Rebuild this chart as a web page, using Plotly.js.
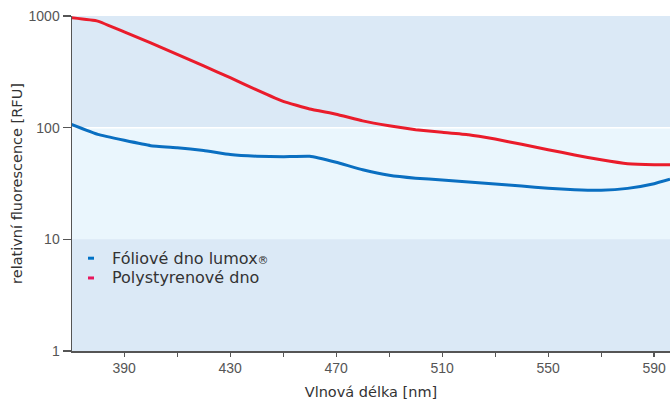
<!DOCTYPE html>
<html>
<head>
<meta charset="utf-8">
<script src="https://cdn.plot.ly/plotly-3.0.1.min.js"></script>
<style>html,body{margin:0;padding:0;background:#fff;}#chart{width:670px;height:403px;}</style>
</head>
<body>
<div id="chart"></div>
<script>
// Wavelength [nm]
var wavelength = [370, 380, 390, 400, 410, 420, 430, 440, 450, 460, 470, 480, 490, 500, 510, 520, 530, 540, 550, 560, 570, 580, 590, 596];
// Fóliové dno lumox® [RFU]
var lumox = [107, 87, 77, 69, 66, 62.5, 57.5, 55.5, 55, 55.5, 49, 42, 37.5, 35.3, 34, 32.7, 31.3, 30, 28.7, 27.8, 27.5, 28.6, 31.5, 34.5];
// Polystyrenové dno [RFU]
var polystyrene = [965, 900, 720, 575, 454, 357, 280, 218, 172, 147, 132, 115, 104, 96, 91, 86.5, 79, 71, 63.5, 57, 51.5, 47.5, 46.5, 46.5];

var seriesNames = ['Fóliové dno lumox<span style="font-size:11px">®</span>', 'Polystyrenové dno'];
var xTickVals = [390, 430, 470, 510, 550, 590];
var xTickText = ['390', '430', '470', '510', '550', '590'];
var xMinorTickVals = [410, 450, 490, 530, 570];
var yTickVals = [1, 10, 100, 1000];
var yTickText = ['1', '10', '100', '1000'];

var blue = '#0a6fc1';
var red = '#ea1c2b';
var bandDark = '#dbe9f6';
var bandLight = '#eaf6fd';

var traces = [
  {x: wavelength, y: lumox, name: 'Fóliové dno lumox®', type: 'scatter', mode: 'lines',
   line: {color: blue, width: 3, shape: 'spline', smoothing: 0.3}, showlegend: false},
  {x: wavelength, y: polystyrene, name: seriesNames[1], type: 'scatter', mode: 'lines',
   line: {color: red, width: 3, shape: 'spline', smoothing: 0.3}, showlegend: false}
];

var tickFont = {family: 'Liberation Sans Narrow, Arial Narrow, sans-serif', size: 14, color: '#555'};
var titleFont = {family: 'DejaVu Sans, sans-serif', size: 14.5, color: '#333'};
var legendFont = {family: 'DejaVu Sans, sans-serif', size: 16, color: '#333'};

var layout = {
  width: 670, height: 403,
  margin: {l: 72, r: 0, t: 15.5, b: 52, pad: 0},
  paper_bgcolor: '#fff',
  plot_bgcolor: bandDark,
  showlegend: false,
  xaxis: {
    range: [370.3, 596], tickmode: 'array', tickvals: xTickVals, ticktext: xTickText,
    ticks: 'outside', ticklen: 4, tickwidth: 1.2, tickcolor: '#555',
    minor: {tickmode: 'array', tickvals: xMinorTickVals, ticks: 'outside', ticklen: 4, tickwidth: 1.2, tickcolor: '#555', showgrid: false},
    showline: true, linecolor: '#555', linewidth: 1.5, showgrid: false, zeroline: false,
    tickfont: tickFont,
    title: {text: 'Vlnová délka [nm]', font: titleFont, standoff: 11}
  },
  yaxis: {
    type: 'log', range: [0, 3], tickmode: 'array', tickvals: yTickVals, ticktext: yTickText,
    ticks: 'outside', ticklen: 8, tickwidth: 1.2, tickcolor: '#555',
    showline: true, linecolor: '#555', linewidth: 1.5, showgrid: false, zeroline: false,
    tickfont: tickFont,
    title: {text: 'relativní fluorescence [RFU]', font: titleFont, standoff: 2}
  },
  shapes: [
    {type: 'rect', xref: 'paper', yref: 'y', x0: 0, x1: 1, y0: 1, y1: 10, fillcolor: bandDark, line: {width: 0}, layer: 'below'},
    {type: 'rect', xref: 'paper', yref: 'y', x0: 0, x1: 1, y0: 10, y1: 100, fillcolor: bandLight, line: {width: 0}, layer: 'below'},
    {type: 'rect', xref: 'paper', yref: 'y', x0: 0, x1: 1, y0: 100, y1: 1000, fillcolor: bandDark, line: {width: 0}, layer: 'below'},
    {type: 'line', xref: 'paper', yref: 'y', x0: 0, x1: 1, y0: 100, y1: 100, line: {color: '#fff', width: 1.5}, layer: 'below'},
    {type: 'line', xref: 'paper', yref: 'paper', x0: 0.0268, x1: 0.0368, y0: 0.277, y1: 0.277, line: {color: '#0072c6', width: 3}},
    {type: 'line', xref: 'paper', yref: 'paper', x0: 0.0268, x1: 0.0368, y0: 0.218, y1: 0.218, line: {color: '#e8175d', width: 3}}
  ],
  annotations: [
    {xref: 'paper', yref: 'paper', x: 0.064, y: 0.277, xanchor: 'left', yanchor: 'middle', showarrow: false,
     text: seriesNames[0], font: legendFont},
    {xref: 'paper', yref: 'paper', x: 0.064, y: 0.218, xanchor: 'left', yanchor: 'middle', showarrow: false,
     text: seriesNames[1], font: legendFont}
  ]
};

Plotly.newPlot('chart', traces, layout, {displayModeBar: false, staticPlot: true});
</script>
</body>
</html>
